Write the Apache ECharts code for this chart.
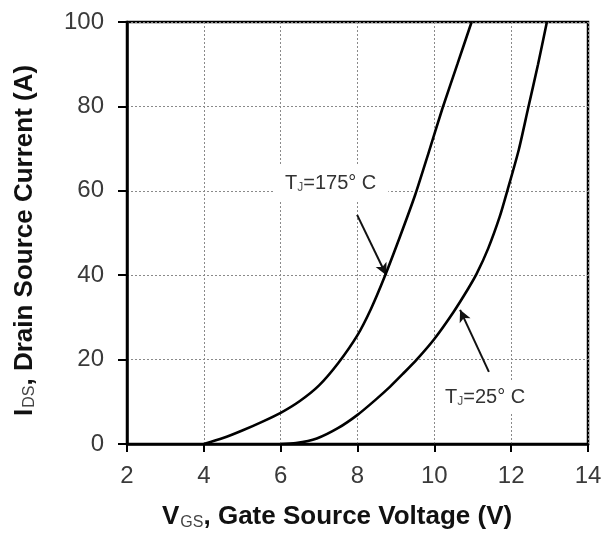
<!DOCTYPE html>
<html>
<head>
<meta charset="utf-8">
<script src="https://cdn.jsdelivr.net/npm/echarts@6/dist/echarts.min.js"></script>
<style>html,body{margin:0;padding:0;background:#fff}#c{width:613px;height:541px}</style>
</head>
<body>
<div id="c"></div>
<script>
// V_GS (V), I_DS (A)
var vgs175 = [4, 4.5, 5, 5.5, 6, 6.5, 7, 7.5, 8, 8.35, 8.7, 9.1, 9.5, 9.85, 10.21, 10.6, 10.97];
var ids175 = [0, 1.4, 3.2, 5.2, 7.4, 10.2, 13.9, 19.2, 25.8, 32, 39.5, 49, 59, 69, 79.5, 90, 100];
var vgs25 = [6, 6.4, 6.94, 7.5, 8, 8.46, 8.85, 9.19, 9.54, 10, 10.5, 10.88, 11.1, 11.4, 11.7, 11.9, 12.2, 12.44, 12.7, 12.93];
var ids25 = [0, 0.2, 1.3, 3.8, 6.9, 10.4, 13.6, 16.7, 20, 24.9, 31.3, 36.8, 40.3, 46.3, 53.8, 60, 69.8, 79.5, 90, 100];
var xTicks = [2, 4, 6, 8, 10, 12, 14];
var yTicks = [0, 20, 40, 60, 80, 100];
var arrow175 = [[7.99, 54.3], [8.75, 40.0]];
var arrow25 = [[11.42, 17.1], [10.67, 31.8]];

function zip(a, b) { return a.map(function (v, i) { return [v, b[i]]; }); }

var chart = echarts.init(document.getElementById('c'), null, {renderer: 'canvas'});
var lineStyle = {color: '#000', width: 2.6};
var arrowLine = function (pts) {
  return {
    silent: true, symbol: ['none', 'arrow'], symbolSize: [9, 12],
    lineStyle: {color: '#111', width: 2, type: 'solid'}, label: {show: false},
    data: [[{coord: pts[0]}, {coord: pts[1]}]]
  };
};
var tickFont = {fontFamily: 'Liberation Sans, Arial, sans-serif', fontSize: 24, color: '#3a3a3a'};
var labRich = {a: {fontSize: 20, fontFamily: 'Liberation Sans, Arial', fill: '#333'}, s: {fontSize: 12, fontFamily: 'Liberation Sans, Arial', fill: '#555', padding: [9, 0, 0, 0]}};
var titleRich = {a: {fontSize: 26, fontWeight: 'bold', fontFamily: 'Liberation Sans, Arial', fill: '#111'}, s: {fontSize: 16, fontFamily: 'Liberation Sans, Arial', fill: '#444', padding: [11, 0, 0, 1]}};
chart.setOption({
  animation: false,
  grid: {left: 127, right: 25, top: 22, bottom: 97, show: true, borderColor: '#000', borderWidth: 2.5, backgroundColor: '#fff'},
  xAxis: {
    type: 'value', min: xTicks[0], max: xTicks[xTicks.length - 1], interval: 2,
    axisLine: {lineStyle: {color: '#000', width: 2.5}},
    axisTick: {show: true, length: 8, lineStyle: {color: '#000', width: 2}},
    axisLabel: Object.assign({margin: 20}, tickFont),
    splitLine: {show: true, lineStyle: {color: '#8a8a8a', width: 1, type: [2, 2]}}
  },
  yAxis: {
    type: 'value', min: yTicks[0], max: yTicks[yTicks.length - 1], interval: 20,
    axisLine: {lineStyle: {color: '#000', width: 2.5}},
    axisTick: {show: true, length: 9, lineStyle: {color: '#000', width: 2}},
    axisLabel: Object.assign({margin: 23}, tickFont),
    splitLine: {show: true, lineStyle: {color: '#8a8a8a', width: 1, type: [2, 2]}}
  },
  graphic: [
    {type: 'text', left: 273, top: 165, z: 50, style: {
      rich: labRich, text: '{a|T}{s|J}{a|=175° C}', backgroundColor: '#fff', padding: [8, 12, 8, 12]}},
    {type: 'text', left: 435, top: 381, z: 50, style: {
      rich: labRich, text: '{a|T}{s|J}{a|=25° C}', backgroundColor: '#fff', padding: [6, 12, 6, 10]}},
    {type: 'text', left: 162, top: 504, style: {
      rich: titleRich, text: '{a|V}{s|GS}{a|, Gate Source Voltage (V)}'}},
    {type: 'text', rotation: Math.PI / 2, originX: 0, originY: 0, x: 11, y: 416, style: {
      rich: titleRich, text: '{a|I}{s|DS}{a|, Drain Source Current (A)}'}}
  ],
  series: [
    {type: 'line', data: zip(vgs175, ids175), smooth: 0.25, showSymbol: false, lineStyle: lineStyle, z: 10, markLine: arrowLine(arrow175)},
    {type: 'line', data: zip(vgs25, ids25), smooth: 0.25, showSymbol: false, lineStyle: lineStyle, z: 10, markLine: arrowLine(arrow25)}
  ]
});
</script>
</body>
</html>
